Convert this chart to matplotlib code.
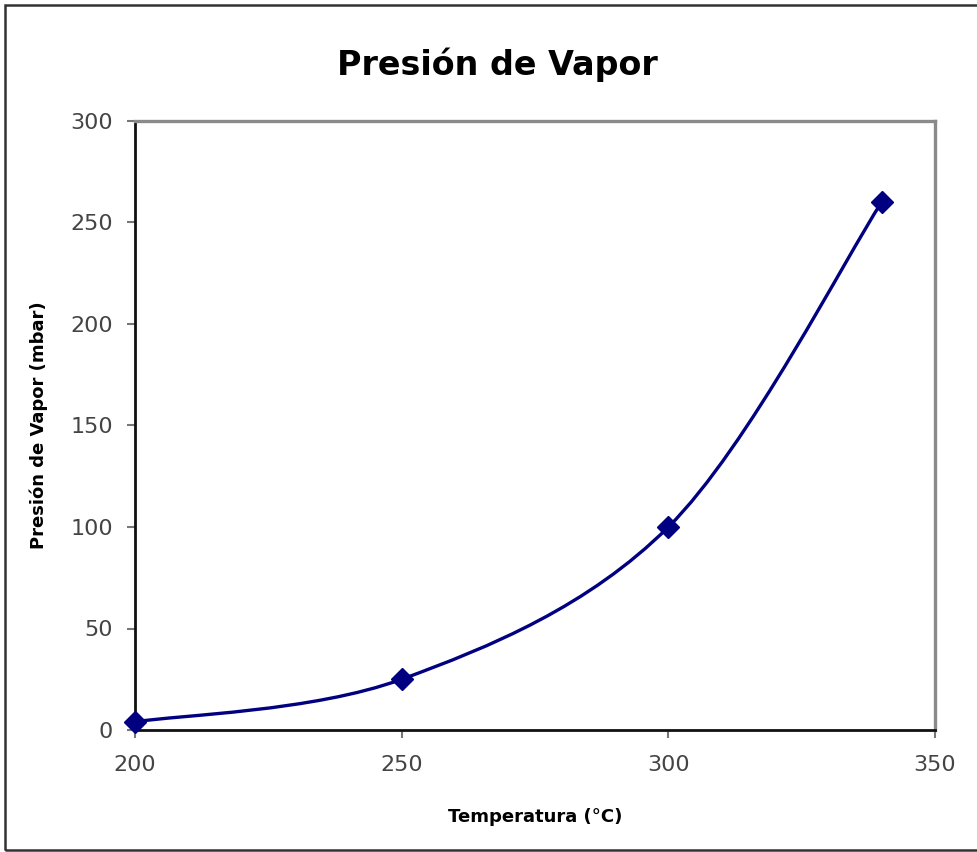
import matplotlib
matplotlib.use("Agg")

import matplotlib.pyplot as plt
import numpy as np
from matplotlib.path import Path
from matplotlib.patches import PathPatch, Rectangle

# vapour pressure readings
temperatura = [200, 250, 300, 340]      # degC
presion = [4, 25, 100, 260]             # mbar

x_ticks = [200, 250, 300, 350]
y_ticks = [0, 50, 100, 150, 200, 250, 300]

LINE = "#000080"


def smooth_path(xs, ys):
    # Catmull-Rom style cubic Bezier through every point (spreadsheet "smoothed line")
    pts = np.column_stack([xs, ys]).astype(float)
    n = len(pts)
    verts = [pts[0]]
    codes = [Path.MOVETO]
    for i in range(n - 1):
        p0 = pts[i - 1] if i > 0 else pts[i]
        p1 = pts[i]
        p2 = pts[i + 1]
        p3 = pts[i + 2] if i + 2 < n else pts[i + 1]
        c1 = p1 + (p2 - p0) / 6.0
        c2 = p2 - (p3 - p1) / 6.0
        verts += [c1, c2, p2]
        codes += [Path.CURVE4] * 3
    return Path(verts, codes)


fig = plt.figure(figsize=(9.77, 8.52), dpi=100)
fig.patches.append(Rectangle((5 / 977, 2 / 852), 1.0, 845 / 852, transform=fig.transFigure,
                             fill=False, edgecolor="#333333", linewidth=1.8))

ax = fig.add_axes([135 / 977, 122 / 852, 800 / 977, 609 / 852])

ax.add_patch(PathPatch(smooth_path(temperatura, presion), fill=False,
                       edgecolor=LINE, linewidth=2.4, zorder=3))
ax.plot(temperatura, presion, linestyle="none", marker="D", markersize=11,
        color=LINE, zorder=4, clip_on=False)

ax.set_xlim(200, 350)
ax.set_ylim(0, 300)
ax.set_xticks(x_ticks)
ax.set_yticks(y_ticks)

for side in ["left", "bottom"]:
    ax.spines[side].set_color("#111111")
    ax.spines[side].set_linewidth(2.0)
for side in ["top", "right"]:
    ax.spines[side].set_color("#8a8a8a")
    ax.spines[side].set_linewidth(2.4)

ax.tick_params(axis="both", direction="out", length=6, width=1.5, color="#777777",
               labelsize=16, labelcolor="#444444")
ax.tick_params(axis="x", pad=12)
ax.tick_params(axis="y", pad=10)

fig.text(497 / 977, 1 - 65 / 852, "Presión de Vapor", fontsize=24, fontweight="bold",
         ha="center", va="center")
ax.set_xlabel("Temperatura (°C)", fontsize=13, fontweight="bold", labelpad=24)
ax.set_ylabel("Presión de Vapor (mbar)", fontsize=13, fontweight="bold", labelpad=16)

fig.savefig("out.png", dpi=100)
